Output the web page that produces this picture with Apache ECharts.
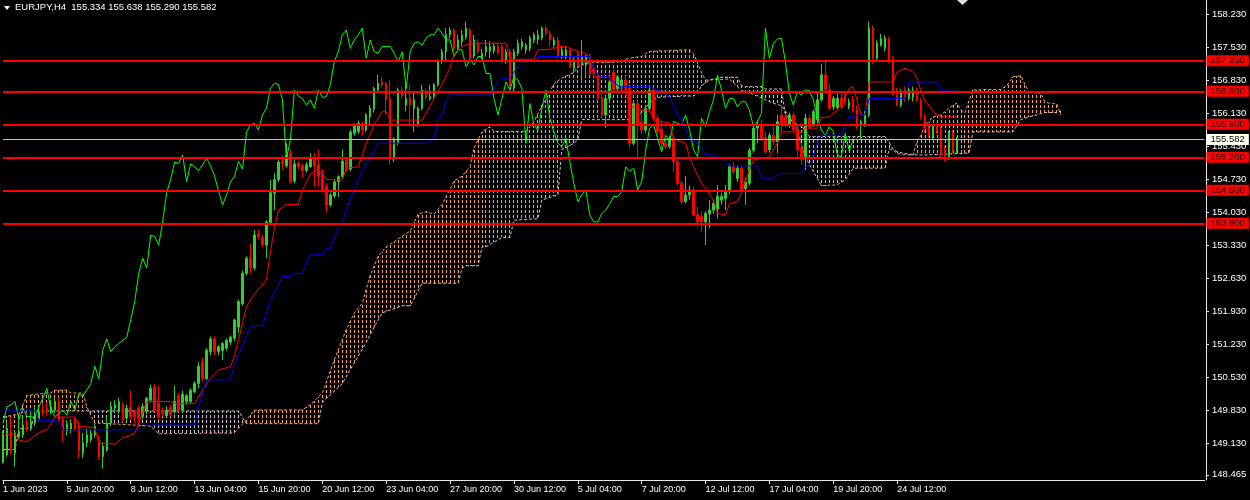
<!DOCTYPE html>
<html><head><meta charset="utf-8">
<script src="https://cdn.jsdelivr.net/npm/echarts@6/dist/echarts.min.js"></script>
<style>html,body{margin:0;padding:0;background:#000;}#c{width:1250px;height:500px;}</style>
</head><body><div id="c"></div><script>
// ---------- data ----------
const headerText = 'EURJPY,H4  155.334 155.638 155.290 155.582';
const xLabels = ['1 Jun 2023','5 Jun 20:00','8 Jun 12:00','13 Jun 04:00','15 Jun 20:00','20 Jun 12:00','23 Jun 04:00','27 Jun 20:00','30 Jun 12:00','5 Jul 04:00','7 Jul 20:00','12 Jul 12:00','17 Jul 04:00','19 Jul 20:00','24 Jul 12:00'];
const priceTicks = [158.230,157.530,156.830,156.130,155.430,154.730,154.030,153.330,152.630,151.930,151.230,150.530,149.830,149.130,148.465];
const levels = [157.250,156.600,155.900,155.200,154.500,153.800];
const bidPrice = 155.582;
// [open, high, low, close]
const candles = [
[148.73,149.40,148.70,149.27],[148.89,149.59,148.85,149.45],[149.38,149.69,148.90,148.96],[148.92,149.40,148.64,149.35],[149.27,149.63,149.20,149.38],
[149.31,149.73,149.25,149.52],[149.59,149.65,149.38,149.45],[149.45,149.84,149.40,149.59],[149.56,149.90,149.50,149.77],[149.66,149.95,149.60,149.80],
[149.84,149.98,149.70,149.77],[149.88,150.00,149.72,149.80],[149.80,150.05,149.75,149.91],[149.84,150.10,149.78,150.02],[150.02,150.12,149.58,149.63],
[149.63,149.70,149.17,149.40],[149.40,149.62,149.30,149.55],[149.42,149.65,149.35,149.56],[149.63,149.70,149.40,149.45],[149.50,149.60,148.82,148.99],
[148.92,149.35,148.82,149.14],[149.14,149.45,149.05,149.31],[149.21,149.42,149.15,149.35],[149.31,149.55,149.25,149.49],[149.20,149.30,148.78,148.85],
[148.85,149.15,148.60,149.07],[148.99,149.70,148.95,149.56],[149.56,150.02,149.50,149.91],[149.88,150.05,149.80,149.95],[149.81,150.10,149.75,150.02],
[149.95,150.00,149.58,149.63],[149.67,149.95,149.60,149.88],[149.90,150.25,149.65,149.70],[149.80,149.85,149.56,149.70],[149.88,149.95,149.49,149.67],
[149.70,149.98,149.65,149.91],[149.80,150.12,149.75,150.09],[150.05,150.38,150.00,150.30],[150.33,150.40,149.80,149.84],[149.99,150.35,149.65,149.70],
[149.84,149.90,149.70,149.77],[149.72,149.92,149.68,149.84],[149.89,149.95,149.70,149.73],[149.80,150.35,149.75,150.02],[150.14,150.20,149.80,149.84],
[149.84,150.25,149.78,150.18],[150.02,150.18,149.95,150.14],[150.02,150.30,149.98,150.26],[150.23,150.45,150.20,150.40],[150.40,150.85,150.30,150.77],
[150.85,150.95,150.45,150.50],[150.50,151.15,150.45,151.11],[151.08,151.40,151.00,151.35],[151.35,151.40,151.00,151.08],[151.08,151.22,151.00,151.18],
[151.10,151.28,150.90,151.25],[151.15,151.36,151.10,151.32],[151.28,151.42,151.22,151.38],[151.36,151.78,151.30,151.75],[151.60,152.18,151.47,152.14],
[152.10,152.80,152.05,152.74],[152.74,153.10,152.70,153.06],[153.06,153.38,152.74,152.85],[152.85,153.66,152.80,153.55],[153.57,153.67,153.45,153.52],
[153.50,153.55,153.30,153.34],[153.34,153.87,153.06,153.83],[153.82,154.72,153.75,154.45],[154.44,154.86,154.08,154.73],[154.73,155.15,154.68,155.10],
[155.11,155.25,154.93,155.07],[155.02,155.50,154.98,155.25],[155.29,155.36,154.65,154.68],[154.70,155.16,154.65,155.06],[155.07,155.12,154.95,155.00],
[155.02,155.07,154.76,154.92],[154.92,155.10,154.88,155.04],[155.00,155.29,154.97,155.18],[155.21,155.29,154.58,155.02],[155.04,155.36,154.58,154.80],
[154.85,154.95,154.45,154.49],[154.58,154.65,154.03,154.19],[154.19,154.45,154.15,154.40],[154.38,154.72,154.33,154.68],[154.68,154.82,154.36,154.79],
[154.79,155.36,154.75,155.12],[155.14,155.20,154.90,154.95],[154.95,155.78,154.90,155.74],[155.71,155.92,155.66,155.89],[155.75,155.98,155.70,155.92],
[155.92,155.96,155.67,155.78],[155.78,156.14,155.74,156.10],[156.06,156.31,155.89,156.24],[156.22,156.70,156.15,156.66],[156.63,156.95,156.59,156.77],
[156.80,156.90,156.70,156.75],[156.77,156.80,156.10,156.42],[156.45,156.84,155.04,155.18],[155.18,155.62,155.10,155.57],[155.50,156.68,155.45,156.63],
[156.63,156.70,156.45,156.50],[156.31,156.74,156.17,156.45],[156.45,156.74,155.89,156.31],[156.24,156.56,155.74,156.42],[155.89,156.28,155.85,156.24],
[156.24,156.74,156.20,156.63],[156.61,156.66,156.42,156.47],[156.44,156.74,156.40,156.49],[156.49,156.78,156.45,156.74],[156.74,157.28,156.70,157.23],
[157.23,157.50,157.18,157.44],[157.44,157.94,157.26,157.80],[157.80,157.96,157.72,157.90],[157.90,157.94,157.44,157.51],[157.51,157.80,157.44,157.69],
[157.65,157.90,157.55,157.80],[157.75,158.08,157.70,157.94],[157.90,157.94,157.26,157.30],[157.35,157.80,157.30,157.69],[157.62,157.70,157.40,157.44],
[157.34,157.50,157.28,157.41],[157.44,157.69,157.34,157.55],[157.45,157.66,157.30,157.55],[157.46,157.62,157.40,157.56],[157.56,157.62,157.38,157.41],
[157.55,157.60,157.20,157.23],[157.23,157.50,157.18,157.44],[157.44,157.50,156.60,156.66],[156.66,157.50,156.60,157.44],[157.41,157.70,157.35,157.62],
[157.55,157.72,157.48,157.65],[157.48,157.62,157.40,157.58],[157.51,157.78,157.45,157.73],[157.68,157.85,157.62,157.80],[157.70,157.90,157.60,157.80],
[157.73,157.98,157.68,157.94],[157.94,158.00,157.78,157.83],[157.83,157.88,157.55,157.69],[157.58,157.75,157.52,157.69],[157.69,157.75,157.30,157.34],
[157.34,157.55,157.28,157.48],[157.32,157.55,157.28,157.48],[157.48,157.52,157.10,157.12],[157.08,157.32,157.00,157.27],[157.41,157.45,157.12,157.16],
[157.19,157.69,156.77,157.34],[157.16,157.37,156.91,157.34],[157.34,157.40,156.95,156.98],[157.10,157.15,156.90,156.98],[156.95,157.00,156.40,156.45],
[156.47,156.55,156.05,156.10],[156.10,156.50,155.82,156.45],[156.45,156.84,156.35,156.80],[157.00,157.08,156.60,156.63],[156.66,156.95,156.60,156.91],
[156.70,156.90,156.62,156.84],[156.84,156.92,156.60,156.66],[156.66,156.70,155.40,155.50],[155.50,156.40,155.45,156.34],[156.34,156.40,155.17,155.89],
[155.95,156.10,155.70,155.78],[155.78,156.30,155.72,156.24],[156.24,156.70,156.18,156.63],[156.63,156.68,155.98,156.03],[156.03,156.10,155.68,155.74],
[155.80,155.98,155.36,155.50],[155.50,155.58,155.38,155.43],[155.43,155.66,155.38,155.60],[155.60,155.66,154.89,155.11],[155.11,155.20,154.60,154.65],
[154.65,154.70,154.20,154.26],[154.26,154.80,154.22,154.40],[154.40,154.60,154.30,154.51],[154.51,154.58,153.95,153.98],[153.98,154.15,153.73,153.83],
[153.95,154.05,153.62,153.83],[153.83,154.05,153.34,154.01],[154.00,154.29,153.70,154.08],[154.08,154.30,154.00,154.22],[154.10,154.61,153.91,154.37],
[154.29,154.45,154.20,154.37],[154.33,154.61,154.08,154.47],[154.47,155.05,154.42,155.00],[155.00,155.10,154.85,154.90],[154.75,155.02,154.68,154.97],
[154.97,155.02,154.48,154.51],[154.54,154.75,154.19,154.68],[154.65,155.40,154.60,155.35],[155.35,155.86,155.30,155.82],[155.82,155.99,155.50,155.89],
[155.89,155.99,155.55,155.60],[155.62,155.75,155.28,155.32],[155.36,155.72,155.30,155.67],[155.67,155.92,155.46,155.53],[155.53,156.10,155.29,155.96],
[156.10,156.31,155.74,155.92],[156.06,156.12,155.84,155.89],[155.89,156.15,155.82,156.10],[156.10,156.15,155.74,155.78],[155.80,155.86,155.18,155.36],
[155.40,155.50,155.04,155.21],[155.21,156.13,154.93,156.03],[156.03,156.10,155.80,155.85],[155.90,156.22,155.85,156.17],[156.00,156.59,155.92,156.42],
[156.42,157.19,156.38,156.95],[156.95,157.26,156.58,156.63],[156.63,156.75,156.20,156.24],[156.27,156.50,156.20,156.45],[156.25,156.55,156.20,156.45],
[156.45,156.55,156.22,156.27],[156.52,156.58,156.32,156.38],[156.27,156.45,156.22,156.38],[156.42,156.50,156.15,156.20],[156.22,156.30,155.80,155.85],
[155.89,156.00,155.57,155.96],[155.90,156.18,155.85,156.13],[156.10,158.08,156.05,157.94],[157.94,158.00,157.17,157.30],[157.30,157.68,157.25,157.62],
[157.58,157.82,157.55,157.71],[157.51,157.78,157.45,157.73],[157.71,157.76,157.20,157.23],[157.23,157.35,156.52,156.56],[156.60,156.68,156.28,156.31],
[156.31,156.65,156.26,156.59],[156.63,156.70,156.38,156.52],[156.45,156.68,156.40,156.63],[156.48,156.70,156.38,156.62],[156.62,156.68,156.38,156.42],
[156.40,156.45,156.00,156.06],[156.06,156.12,155.72,155.78],[155.82,155.92,155.62,155.67],[155.67,155.90,155.60,155.85],[155.85,155.92,155.70,155.75],
[155.78,155.92,155.18,155.25],[155.35,155.45,155.11,155.21],[155.21,155.76,155.15,155.71],[155.71,155.78,155.30,155.34],[155.334,155.638,155.290,155.582]
];
// Tenkan-sen (red) vertices [bar, price]
const tenkan = [[0,149.33],[3,149.33],[4,149.20],[6,149.17],[8,149.30],[10,149.40],[11,149.42],[12,149.55],[13,149.69],[18,149.69],[19,149.50],[21,149.48],[23,149.46],[24,149.14],[28,149.12],[30,149.25],[32,149.30],[33,149.35],[34,149.55],[35,149.80],[36,150.02],[42,150.02],[43,149.98],[48,149.98],[50,150.26],[52,150.52],[54,150.69],[57,150.76],[58,151.00],[59,151.33],[61,152.03],[63,152.30],[66,152.60],[67,153.20],[68,153.70],[69,154.08],[71,154.20],[74,154.20],[75,154.50],[77,154.85],[79,154.97],[80,154.85],[81,154.73],[85,154.72],[86,154.97],[89,155.00],[91,155.50],[93,155.89],[95,156.17],[96,156.17],[97,155.99],[105,155.99],[107,156.30],[110,156.75],[112,157.10],[113,157.40],[115,157.55],[117,157.62],[126,157.62],[127,157.28],[133,157.28],[134,157.48],[138,157.50],[139,157.55],[141,157.55],[143,157.48],[146,157.40],[147,157.30],[148,156.91],[152,156.91],[153,156.63],[156,156.63],[157,156.27],[159,156.27],[160,156.20],[162,156.20],[163,155.99],[165,155.96],[167,155.93],[168,155.60],[171,155.50],[172,155.21],[173,155.00],[175,154.65],[176,154.55],[178,154.29],[179,154.01],[181,153.98],[182,154.22],[184,154.26],[185,154.44],[187,154.93],[188,155.14],[190,155.18],[192,155.21],[194,155.50],[195,155.74],[200,155.74],[201,155.82],[204,155.82],[205,156.04],[207,156.06],[209,156.20],[212,156.66],[213,156.70],[214,156.40],[215,156.10],[216,156.10],[217,156.80],[223,156.80],[224,157.02],[226,157.09],[228,157.02],[229,156.88],[230,156.59],[231,156.38],[232,156.31],[233,156.17],[234,156.10],[235,156.06],[239,156.06]];
// Kijun-sen (blue) vertices [bar, price]
const kijun = [[0,149.82],[8,149.82],[9,149.61],[14,149.61],[15,149.42],[35,149.42],[36,149.52],[48,149.52],[49,149.90],[50,150.20],[51,150.48],[57,150.48],[58,150.80],[60,151.20],[61,151.40],[62,151.62],[65,151.64],[66,151.90],[67,152.17],[69,152.50],[70,152.67],[72,152.67],[73,152.74],[75,152.74],[76,152.95],[77,153.13],[80,153.13],[81,153.27],[82,153.27],[83,153.50],[84,153.70],[85,153.83],[86,154.08],[88,154.54],[90,154.90],[92,155.21],[93,155.35],[94,155.50],[106,155.50],[107,155.55],[108,155.60],[109,156.00],[110,156.10],[111,156.40],[112,156.52],[122,156.52],[123,156.65],[124,156.80],[125,156.88],[127,156.88],[128,157.00],[129,157.12],[130,157.23],[133,157.23],[134,157.34],[147,157.34],[148,157.10],[149,156.95],[150,156.91],[152,156.91],[153,156.80],[154,156.72],[155,156.70],[162,156.70],[163,156.65],[165,156.59],[167,156.49],[168,156.30],[169,156.10],[170,155.99],[171,155.80],[172,155.60],[174,155.50],[175,155.43],[176,155.25],[178,155.25],[179,155.20],[181,155.14],[182,155.02],[189,155.02],[190,154.76],[193,154.76],[194,154.83],[195,154.86],[200,154.86],[201,154.99],[202,155.04],[203,155.18],[204,155.53],[205,155.67],[210,155.67],[211,155.85],[212,156.06],[215,156.10],[216,156.10],[217,156.45],[226,156.45],[227,156.80],[234,156.80],[235,156.61],[239,156.60]];
// Senkou Span A (sandy brown) per bar 0..265
const spanA = [
149.70,149.71,149.72,149.74,149.75,149.95,150.15,150.16,150.17,150.18,150.19,150.20,150.20,150.26,150.26,150.26,150.26,150.20,150.20,150.20,
150.20,149.91,149.73,149.56,149.56,149.56,149.55,149.55,149.54,149.54,149.53,149.53,149.52,149.52,149.51,149.51,149.50,149.50,149.41,149.33,
149.34,149.34,149.34,149.34,149.34,149.34,149.34,149.34,149.34,149.34,149.35,149.35,149.35,149.35,149.35,149.35,149.35,149.35,149.36,149.45,
149.54,149.63,149.74,149.84,149.84,149.84,149.84,149.84,149.84,149.84,149.84,149.84,149.84,149.84,149.84,149.84,149.90,149.95,150.03,150.12,
150.20,150.43,150.67,150.90,151.12,151.33,151.55,151.72,151.90,152.00,152.10,152.40,152.70,152.90,153.10,153.20,153.30,153.36,153.41,153.47,
153.53,153.58,153.64,153.82,154.00,154.02,154.05,154.02,154.00,154.10,154.20,154.37,154.53,154.70,154.75,154.80,154.90,155.00,155.40,155.57,
155.74,155.80,155.85,155.75,155.75,155.75,155.75,155.75,155.75,155.75,155.75,155.75,155.85,155.95,156.12,156.30,156.42,156.59,156.76,156.82,
156.88,156.92,156.96,157.00,157.12,157.16,157.20,157.20,157.21,157.21,157.21,157.22,157.22,157.22,157.23,157.23,157.28,157.30,157.32,157.33,
157.34,157.40,157.45,157.45,157.46,157.46,157.46,157.47,157.47,157.47,157.48,157.48,157.48,157.40,157.20,157.00,156.84,156.84,156.85,156.85,
156.85,156.86,156.86,156.78,156.70,156.62,156.60,156.57,156.53,156.50,156.46,156.42,156.38,156.35,156.32,156.30,156.18,156.05,155.92,155.80,
155.50,155.21,155.05,154.90,154.75,154.60,154.60,154.61,154.61,154.62,154.67,154.72,154.85,154.97,154.97,154.97,154.97,154.97,154.97,154.97,
154.97,154.97,155.38,155.35,155.28,155.27,155.26,155.25,155.25,155.55,155.67,155.89,155.96,156.06,156.08,156.10,156.17,156.25,156.30,156.35,
156.20,156.15,156.40,156.63,156.63,156.63,156.64,156.64,156.64,156.64,156.64,156.70,156.77,156.91,156.92,156.93,156.75,156.59,156.58,156.57,
156.56,156.38,156.35,156.34,156.33,156.10
];
// Senkou Span B (thistle) per bar 0..265
const spanB = [
149.00,149.00,149.00,149.00,149.45,149.45,149.45,149.45,149.82,149.82,149.82,149.82,149.82,149.82,149.82,149.82,149.82,149.82,149.82,149.82,
149.82,149.82,149.82,149.82,149.82,149.82,149.82,149.82,149.82,149.82,149.82,149.82,149.82,149.82,149.82,149.82,149.82,149.82,149.82,149.82,
149.82,149.82,149.82,149.82,149.82,149.82,149.82,149.82,149.82,149.82,149.82,149.82,149.82,149.82,149.82,149.82,149.82,149.82,149.82,149.82,
149.68,149.55,149.55,149.55,149.55,149.55,149.55,149.55,149.55,149.55,149.55,149.55,149.55,149.55,149.55,149.55,149.55,149.55,149.55,149.55,
150.00,150.08,150.16,150.24,150.32,150.40,150.55,150.70,150.84,150.98,151.13,151.28,151.44,151.60,151.75,151.90,151.93,151.96,151.99,152.02,
152.05,152.05,152.05,152.20,152.37,152.53,152.53,152.53,152.53,152.53,152.53,152.53,152.53,152.53,152.53,152.85,152.90,152.90,152.90,152.90,
153.30,153.30,153.35,153.40,153.45,153.50,153.50,153.50,153.87,153.87,153.88,153.88,153.89,153.89,153.90,154.30,154.32,154.35,154.38,154.40,
155.37,155.40,155.45,155.50,155.57,156.00,156.00,156.00,156.00,156.00,156.00,156.00,156.00,156.00,156.00,156.00,156.00,156.00,156.00,156.06,
156.15,156.25,156.36,156.42,156.47,156.48,156.48,156.49,156.49,156.49,156.50,156.50,156.50,156.50,156.56,156.72,156.78,156.84,156.86,156.88,
156.90,156.90,156.90,156.90,156.90,156.72,156.70,156.70,156.70,156.70,156.70,156.65,156.65,156.65,156.65,156.65,156.10,156.03,155.95,155.90,
155.88,155.76,155.64,155.64,155.64,155.64,155.64,155.64,155.64,155.64,155.64,155.64,155.64,155.64,155.64,155.64,155.64,155.64,155.64,155.64,
155.64,155.64,155.52,155.37,155.32,155.30,155.28,155.27,155.26,155.25,155.25,155.25,155.25,155.26,155.26,155.26,155.27,155.27,155.28,155.28,
155.28,155.29,155.29,155.74,155.74,155.74,155.74,155.74,155.74,155.74,155.74,155.74,155.74,155.74,155.87,156.00,156.03,156.06,156.08,156.10,
156.13,156.15,156.15,156.15,156.15,156.18
];
// ---------- chart ----------
const N = 302;
const cats = Array.from({length: N}, (_, i) => String(i));
const ohlc = candles.map(d => [d[0], d[3], d[2], d[1]]);
const chikou = candles.slice(26).map((d, i) => [i, d[3]]);
const cloud = spanA.map((a, i) => [i, a, spanB[i]]);
const spanALine = spanA.map((v, i) => [i, v]);
const spanBLine = spanB.map((v, i) => [i, v]);
const FONT = 'Liberation Sans';
const KUMO_UP = '#F4A460', KUMO_DN = '#D8BFD8';

const chart = echarts.init(document.getElementById('c'), null, {renderer: 'canvas'});
chart.setOption({
  backgroundColor: '#000',
  animation: false,
  grid: {left: 0.5, top: 0, width: 4 * (N - 1), height: 480},
  xAxis: {
    type: 'category', data: cats, boundaryGap: false,
    axisLine: {show: true, lineStyle: {color: '#e8e8e8', width: 1}},
    axisTick: {show: true, length: 4, interval: (i) => i % 16 === 0 && i / 16 < xLabels.length, lineStyle: {color: '#e8e8e8'}},
    axisLabel: {show: true, interval: (i) => i % 16 === 0 && i / 16 < xLabels.length,
      formatter: (v, idx) => xLabels[idx / 16] || '', align: 'left', color: '#ffffff',
      fontFamily: FONT, fontSize: 9, margin: 5},
    splitLine: {show: false}
  },
  yAxis: {
    type: 'value', position: 'right', min: 148.355, max: 158.538, offset: 1.5,
    axisLine: {show: true, lineStyle: {color: '#e8e8e8'}},
    axisTick: {show: true, length: 3, customValues: priceTicks, lineStyle: {color: '#e8e8e8'}},
    axisLabel: {show: true, customValues: priceTicks, formatter: (v) => v.toFixed(3), color: '#ffffff',
      fontFamily: FONT, fontSize: 9.5, margin: 6},
    splitLine: {show: false}
  },
  series: [
    {
      type: 'custom', name: 'kumo', z: 1, clip: true, silent: true,
      data: cloud,
      encode: {x: 0, y: [1, 2]},
      renderItem: (params, api) => {
        const k = params.dataIndex;
        const a = spanA[k], b = spanB[k];
        const pa = api.coord([k, a]), pb = api.coord([k, b]);
        const x = Math.floor(pa[0]);
        const top = Math.round(Math.min(pa[1], pb[1])), bot = Math.round(Math.max(pa[1], pb[1]));
        const col = a >= b ? KUMO_UP : KUMO_DN;
        const children = [];
        // dotted histogram column: 3px on / 2px off, aligned to the pixel grid
        for (let y = Math.floor(top / 5) * 5; y < bot; y += 5) {
          const y0 = Math.max(y, top), y1 = Math.min(y + 3, bot);
          if (y1 > y0) children.push({type: 'rect', shape: {x: x, y: y0, width: 1, height: y1 - y0}, style: {fill: col}});
        }
        return {type: 'group', children: children};
      }
    },
    {type: 'line', name: 'Senkou A', z: 2, data: spanALine, symbol: 'none', silent: true,
      lineStyle: {color: KUMO_UP, width: 1, type: [3, 2]}},
    {type: 'line', name: 'Senkou B', z: 2, data: spanBLine, symbol: 'none', silent: true,
      lineStyle: {color: KUMO_DN, width: 1, type: [3, 2]}},
    {type: 'candlestick', name: 'EURJPY', z: 3, data: ohlc, barWidth: 2,
      itemStyle: {color: '#32CD32', color0: '#FF0000', borderColor: '#32CD32', borderColor0: '#FF0000', borderWidth: 1}},
    {type: 'line', name: 'Chikou', z: 4, data: chikou, symbol: 'none', silent: true,
      lineStyle: {color: '#00FF00', width: 1}},
    {type: 'line', name: 'Tenkan', z: 4, data: tenkan, symbol: 'none', silent: true,
      lineStyle: {color: '#FF0000', width: 1}},
    {type: 'line', name: 'Kijun', z: 4, data: kijun, symbol: 'none', silent: true,
      lineStyle: {color: '#0000FF', width: 1}},
    {type: 'line', name: 'levels', z: 6, data: [], silent: true,
      markLine: {
        silent: true, symbol: ['none', 'none'], animation: false,
        data: levels.map(v => ({yAxis: v, lineStyle: {color: '#FF0000', width: 2, type: 'solid'},
            label: {show: true, position: 'end', distance: 2, formatter: v.toFixed(3), color: '#1a0000',
              backgroundColor: '#FF0000', padding: [0, 4], fontFamily: FONT, fontSize: 9.5, lineHeight: 11}}))
          .concat([{yAxis: bidPrice, lineStyle: {color: '#C0C0C0', width: 1, type: 'solid'},
            label: {show: true, position: 'end', distance: 2, formatter: bidPrice.toFixed(3), color: '#000',
              backgroundColor: '#FFFFF0', padding: [0, 4], fontFamily: FONT, fontSize: 9.5, lineHeight: 11}}])
      }
    }
  ],
  graphic: [
    {type: 'polygon', shape: {points: [[4, 6], [10, 6], [7, 10]]}, style: {fill: '#fff'}, silent: true},
    {type: 'text', left: 15, top: 2, style: {text: headerText, fill: '#ffffff', font: '9.5px "Liberation Sans"'}, silent: true},
    {type: 'polygon', shape: {points: [[957, 0], [968, 0], [962.5, 5]]}, style: {fill: '#e0e0e0'}, silent: true}
  ]
});
</script></body></html>
